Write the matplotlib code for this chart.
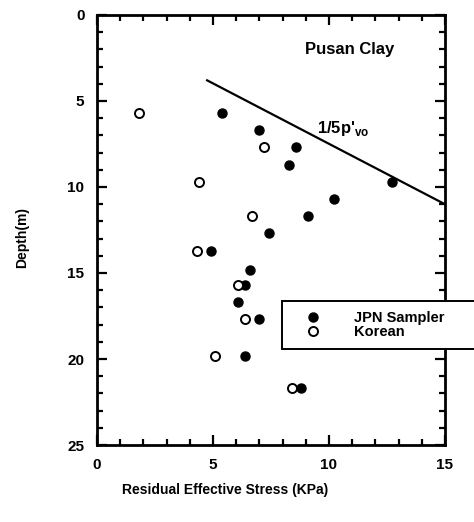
import matplotlib.pyplot as plt
from matplotlib.ticker import MultipleLocator

plt.rcParams['font.family'] = ['Liberation Sans', 'DejaVu Sans']
plt.rcParams['font.weight'] = 'bold'

# residual effective stress (kPa) vs depth (m)
jpn_stress = [5.4, 7.0, 8.6, 8.3, 12.7, 10.2, 9.1, 7.4, 4.9, 6.6, 6.4, 6.1, 7.0, 6.4, 8.8]
jpn_depth = [5.7, 6.7, 7.7, 8.7, 9.7, 10.7, 11.7, 12.7, 13.7, 14.8, 15.7, 16.7, 17.7, 19.8, 21.7]

kor_stress = [1.8, 7.2, 4.4, 6.7, 4.3, 6.1, 6.4, 5.1, 8.4]
kor_depth = [5.7, 7.7, 9.7, 11.7, 13.7, 15.7, 17.7, 19.8, 21.7]

# 1/5 p'vo line
line_stress = [4.75, 15.0]
line_depth = [3.8, 11.0]

fig = plt.figure(figsize=(4.74, 5.22), dpi=100)
ax = fig.add_axes([0.2046, 0.1475, 0.734, 0.8238])

ax.plot(line_stress, line_depth, color='black', lw=1.6, clip_on=False)
ax.plot(jpn_stress, jpn_depth, 'o', ms=6.5, mfc='black', mec='black',
        label='JPN Sampler', clip_on=False)
ax.plot(kor_stress, kor_depth, 'o', ms=6.5, mfc='white', mec='black', mew=1.4,
        label='Korean', clip_on=False)

ax.set_xlim(0, 15)
ax.set_ylim(25, 0)
ax.xaxis.set_major_locator(MultipleLocator(5))
ax.xaxis.set_minor_locator(MultipleLocator(1))
ax.yaxis.set_major_locator(MultipleLocator(5))
ax.yaxis.set_minor_locator(MultipleLocator(1))
ax.tick_params(which='both', direction='in', top=True, right=True,
               width=1.6, labelsize=11, pad=9)
ax.tick_params(which='major', length=7)
ax.tick_params(which='minor', length=4)
for s in ax.spines.values():
    s.set_linewidth(2)

ax.text(10.9, 2.0, 'Pusan Clay', fontsize=12, ha='center', va='center')
ax.text(10.6, 6.6, "1/5p'$_{\\mathregular{vo}}$", fontsize=12, ha='center', va='center')

fig.text(0.475, 0.062, 'Residual Effective Stress (KPa)', fontsize=10,
         ha='center', va='center')
fig.text(0.046, 0.545, 'Depth(m)', fontsize=10, rotation=90,
         ha='center', va='center')

fig.legend(loc='upper left', bbox_to_anchor=(0.595, 0.326, 0.41, 0.097),
           mode='expand', frameon=True, fancybox=False, edgecolor='black',
           framealpha=1, fontsize=10.5, handletextpad=1.3, labelspacing=0.05,
           borderpad=0.65, handlelength=3.0, borderaxespad=0)
leg = fig.legends[0]
leg.get_frame().set_linewidth(1.4)

fig.savefig('out.png', dpi=100)
